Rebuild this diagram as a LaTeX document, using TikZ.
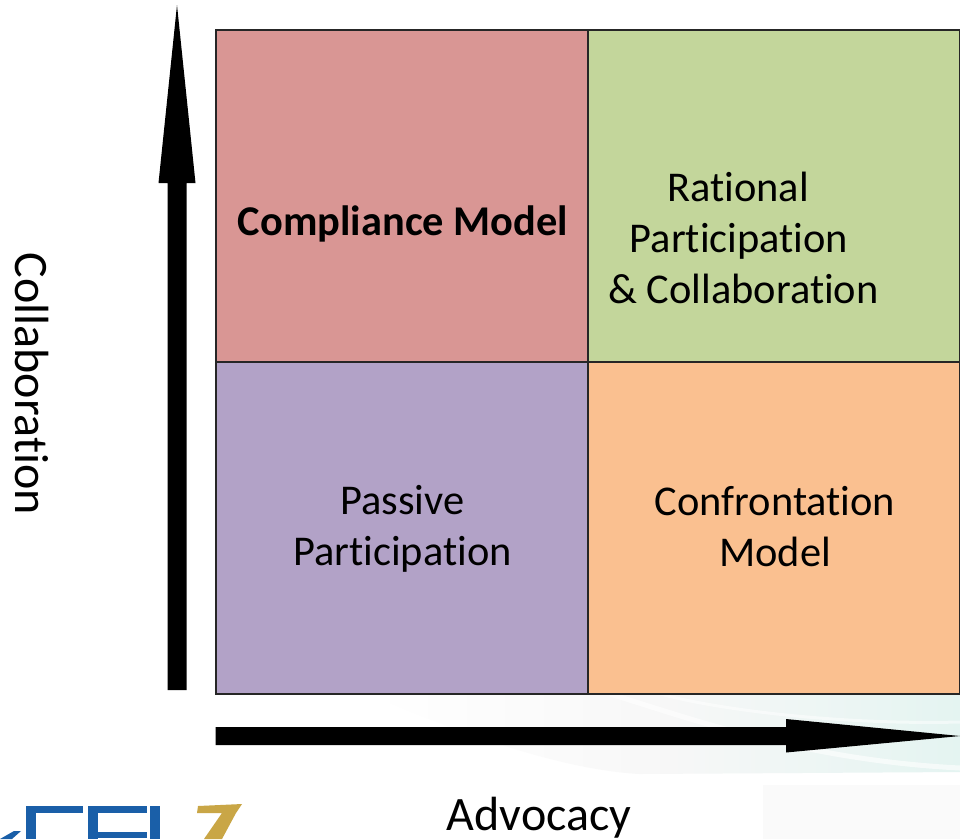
\documentclass[tikz,border=0pt]{standalone}
\usepackage{fontspec}
\setmainfont[Ligatures=NoCommon]{Carlito}
\definecolor{cellred}{HTML}{D99694}
\definecolor{cellgreen}{HTML}{C3D69B}
\definecolor{cellpurple}{HTML}{B2A2C7}
\definecolor{cellorange}{HTML}{FAC090}
\definecolor{logoblue}{HTML}{1A5FA8}
\definecolor{logogold}{HTML}{C9A646}
\definecolor{bandteal}{HTML}{E4F4F1}
\tikzset{
  cell/.style={draw=black!85,line width=1.6pt,minimum width=372pt,minimum height=332pt,inner sep=0pt,outer sep=0pt,anchor=north west},
  celltext/.style={inner sep=0pt,align=center,font=\fontsize{42.4}{51}\selectfont},
  axistext/.style={inner sep=0pt,font=\fontsize{48}{58}\selectfont},
  logobar/.style={fill=logoblue,draw=none},
}
\begin{document}
\begin{tikzpicture}[x=1pt,y=-1pt]
\useasboundingbox (0,0) rectangle (960,839);
\fill[white] (0,0) rectangle (960,839);
% faint background
\begin{scope}
\clip (370,694) -- (960,694) -- (960,772) -- (640,774) .. controls (560,770) and (450,730) .. (370,694);
\shade[left color=white,right color=bandteal,middle color=black!3] (370,694) rectangle (960,775);
\end{scope}
\draw[white,line width=5pt,opacity=.6] (610,694) .. controls (680,715) and (800,760) .. (960,768);
\draw[white,line width=3pt,opacity=.5] (660,694) .. controls (720,710) and (840,725) .. (960,722);
\fill[black!2] (763,785) rectangle (960,839);
% cells
\node[cell,fill=cellred] (a) at (216,30) {};
\node[cell,fill=cellgreen] (b) at (588,30) {};
\node[cell,fill=cellpurple] (c) at (216,362) {};
\node[cell,fill=cellorange] (d) at (588,362) {};
\node[celltext,font=\fontsize{42.4}{51}\selectfont\bfseries] (ta) at (403,224) {Compliance Model};
\node[celltext] (tb) at (743.5,238) {Rational\rule{11pt}{0pt}\\Participation\rule{9pt}{0pt}\\\& Collaboration};
\node[celltext] (tc) at (402.5,529) {Passive\\Participation};
\node[celltext] (td) at (775,527) {Confrontation\\Model};
% axes
\node[axistext,rotate=-90] (ly) at (32,384) {Collaboration};
\node[axistext] (lx) at (539,818) {Advocacy};
\fill[black] (167.5,690) -- (167.5,183) -- (158.5,183) -- (177,5) -- (195.5,183) -- (186.5,183) -- (186.5,690) -- cycle;
\fill[black] (215.5,727) -- (786,727) -- (786,719) -- (960,736) -- (786,752.5) -- (786,745) -- (215.5,745) -- cycle;
% logo
\fill[logobar] (26,806) rectangle (83,813);
\fill[logobar] (26,806) rectangle (36,839);
\fill[logobar] (88,806) rectangle (147,813);
\fill[logobar] (88,806) rectangle (98,839);
\fill[logobar] (98,832) rectangle (147,838);
\fill[logobar] (150,806) rectangle (160,839);
\fill[logobar] (0,839) -- (14,831) -- (21,831) -- (12,839) -- cycle;
\fill[logogold] (198,806) -- (242,804) -- (236,813) -- (222,839) -- (204,839) -- (222,813) -- (197,813) -- cycle;
\end{tikzpicture}
\end{document}
